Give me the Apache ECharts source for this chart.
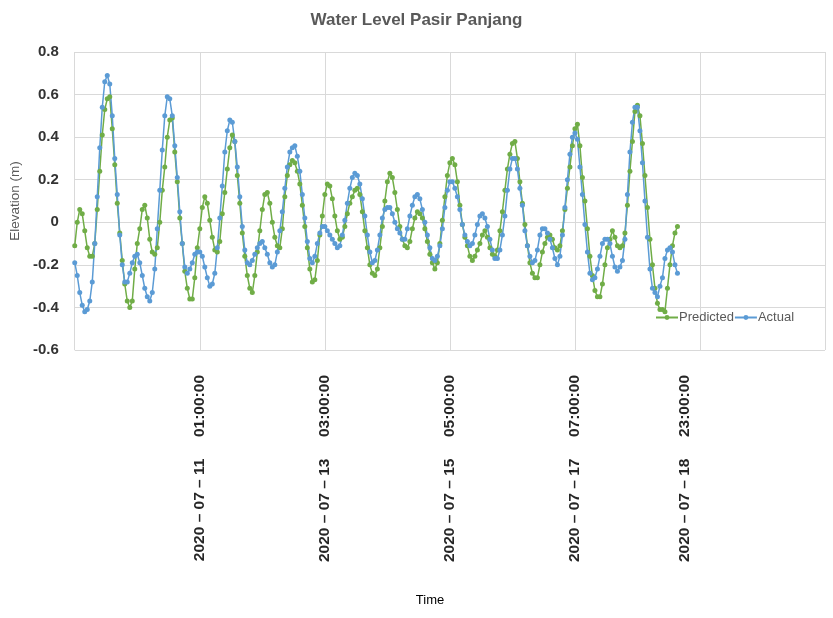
<!DOCTYPE html>
<html>
<head>
<meta charset="utf-8">
<script src="https://cdn.jsdelivr.net/npm/echarts@6/dist/echarts.min.js"></script>
<style>
html,body{margin:0;padding:0;background:#ffffff;}
#chart{width:833px;height:618px;}
</style>
</head>
<body>
<div id="chart"></div>
<script>
// ---- data (hours since 2020-07-08 23:00, one value per hour) ----
const chartTitle = 'Water Level Pasir Panjang';
const yAxisTitle = 'Elevation (m)';
const xAxisTitle = 'Time';
const seriesNames = ['Predicted', 'Actual'];

const tickHours = [50, 100, 150, 200, 244];
const tickLabels = [
  '2020 – 07 – 11     01:00:00',
  '2020 – 07 – 13     03:00:00',
  '2020 – 07 – 15     05:00:00',
  '2020 – 07 – 17     07:00:00',
  '2020 – 07 – 18     23:00:00'
];

const predicted = [
  -0.11, 0.00, 0.06, 0.04, -0.04, -0.12, -0.16, -0.16, -0.10, 0.06,
  0.24, 0.41, 0.53, 0.58, 0.59, 0.44, 0.27, 0.09, -0.05, -0.18,
  -0.29, -0.37, -0.40, -0.37, -0.22, -0.10, -0.03, 0.06, 0.08, 0.02,
  -0.08, -0.14, -0.15, -0.12, 0.00, 0.15, 0.26, 0.40, 0.48, 0.49,
  0.33, 0.19, 0.02, -0.10, -0.23, -0.31, -0.36, -0.36, -0.26, -0.12,
  -0.03, 0.07, 0.12, 0.09, 0.01, -0.07, -0.13, -0.14, -0.09, 0.04,
  0.14, 0.25, 0.35, 0.41, 0.38, 0.22, 0.09, -0.05, -0.16, -0.25,
  -0.31, -0.33, -0.25, -0.14, -0.04, 0.06, 0.13, 0.14, 0.09, 0.00,
  -0.07, -0.11, -0.12, -0.03, 0.12, 0.22, 0.27, 0.29, 0.28, 0.24,
  0.18, 0.08, -0.02, -0.12, -0.22, -0.28, -0.27, -0.18, -0.06, 0.03,
  0.13, 0.18, 0.17, 0.11, 0.03, -0.04, -0.08, -0.07, -0.02, 0.04,
  0.09, 0.12, 0.15, 0.16, 0.13, 0.05, -0.04, -0.12, -0.20, -0.24,
  -0.25, -0.22, -0.12, -0.02, 0.10, 0.19, 0.23, 0.21, 0.14, 0.06,
  -0.02, -0.08, -0.11, -0.12, -0.09, -0.03, 0.02, 0.05, 0.04, 0.02,
  -0.03, -0.09, -0.15, -0.19, -0.22, -0.19, -0.10, 0.01, 0.12, 0.22,
  0.28, 0.30, 0.27, 0.19, 0.08, -0.01, -0.07, -0.11, -0.16, -0.18,
  -0.16, -0.13, -0.10, -0.06, -0.04, -0.07, -0.12, -0.15, -0.16, -0.13,
  -0.04, 0.05, 0.15, 0.25, 0.32, 0.37, 0.38, 0.30, 0.19, 0.09,
  -0.01, -0.11, -0.19, -0.24, -0.26, -0.26, -0.20, -0.14, -0.10, -0.07,
  -0.06, -0.08, -0.12, -0.13, -0.11, -0.04, 0.06, 0.16, 0.26, 0.36,
  0.44, 0.46, 0.36, 0.21, 0.10, -0.03, -0.16, -0.25, -0.32, -0.35,
  -0.35, -0.29, -0.20, -0.12, -0.08, -0.04, -0.07, -0.11, -0.12, -0.11,
  -0.05, 0.08, 0.24, 0.38, 0.52, 0.55, 0.50, 0.37, 0.22, 0.07,
  -0.08, -0.20, -0.31, -0.38, -0.41, -0.41, -0.42, -0.31, -0.20, -0.11,
  -0.05, -0.02
];

const actual = [
  -0.19, -0.25, -0.33, -0.39, -0.42, -0.41, -0.37, -0.28, -0.10, 0.12,
  0.35, 0.54, 0.66, 0.69, 0.65, 0.50, 0.30, 0.13, -0.06, -0.20,
  -0.28, -0.28, -0.24, -0.19, -0.16, -0.15, -0.19, -0.25, -0.31, -0.35,
  -0.37, -0.33, -0.22, -0.03, 0.15, 0.34, 0.50, 0.59, 0.58, 0.50,
  0.36, 0.21, 0.05, -0.10, -0.21, -0.24, -0.22, -0.19, -0.15, -0.14,
  -0.14, -0.16, -0.21, -0.26, -0.30, -0.29, -0.24, -0.12, 0.02, 0.17,
  0.33, 0.43, 0.48, 0.47, 0.38, 0.26, 0.12, -0.02, -0.13, -0.19,
  -0.20, -0.18, -0.15, -0.12, -0.10, -0.09, -0.12, -0.15, -0.19, -0.21,
  -0.20, -0.14, -0.04, 0.05, 0.16, 0.26, 0.33, 0.35, 0.36, 0.31,
  0.24, 0.13, 0.02, -0.09, -0.17, -0.19, -0.16, -0.10, -0.05, -0.02,
  -0.02, -0.04, -0.06, -0.08, -0.10, -0.12, -0.11, -0.06, 0.01, 0.09,
  0.16, 0.21, 0.23, 0.22, 0.18, 0.11, 0.03, -0.06, -0.14, -0.19,
  -0.18, -0.13, -0.06, 0.02, 0.06, 0.07, 0.07, 0.04, 0.00, -0.03,
  -0.05, -0.08, -0.08, -0.03, 0.03, 0.08, 0.12, 0.13, 0.11, 0.06,
  0.00, -0.06, -0.12, -0.17, -0.18, -0.16, -0.11, -0.03, 0.07, 0.15,
  0.19, 0.19, 0.16, 0.12, 0.06, -0.01, -0.06, -0.09, -0.11, -0.10,
  -0.06, -0.01, 0.03, 0.04, 0.02, -0.02, -0.08, -0.13, -0.17, -0.17,
  -0.13, -0.06, 0.03, 0.15, 0.25, 0.30, 0.30, 0.25, 0.16, 0.08,
  -0.04, -0.11, -0.16, -0.19, -0.18, -0.13, -0.06, -0.03, -0.03, -0.05,
  -0.08, -0.12, -0.17, -0.20, -0.16, -0.06, 0.07, 0.20, 0.32, 0.40,
  0.42, 0.39, 0.26, 0.13, -0.01, -0.14, -0.24, -0.27, -0.26, -0.22,
  -0.16, -0.10, -0.08, -0.08, -0.10, -0.16, -0.21, -0.23, -0.21, -0.18,
  -0.08, 0.13, 0.33, 0.47, 0.54, 0.54, 0.43, 0.28, 0.10, -0.07,
  -0.22, -0.31, -0.33, -0.35, -0.30, -0.26, -0.17, -0.13, -0.12, -0.14,
  -0.20, -0.24
];

// ---- chart ----
const FONT = '"Liberation Sans", Arial, sans-serif';
const GREEN = '#70AD47';
const BLUE = '#5B9BD5';

function toPairs(arr) { return arr.map(function (v, i) { return [i, v]; }); }
function xLabel(v) {
  const k = tickHours.indexOf(v);
  return k >= 0 ? tickLabels[k] : '';
}
function yLabel(v) {
  if (Math.abs(v) < 1e-9) return '0';
  return (Math.round(v * 10) / 10).toFixed(1);
}

const chart = echarts.init(document.getElementById('chart'), null, { renderer: 'canvas' });
chart.setOption({
  animation: false,
  backgroundColor: '#ffffff',
  title: {
    text: chartTitle,
    left: 'center',
    top: 7,
    textStyle: { fontFamily: FONT, fontSize: 17, fontWeight: 'bold', color: '#595959' }
  },
  legend: {
    data: seriesNames,
    left: 650,
    top: 306,
    itemWidth: 22,
    itemHeight: 6,
    itemGap: 0,
    textStyle: { fontFamily: FONT, fontSize: 13, color: '#595959', padding: [0, 0, 0, -4] }
  },
  grid: { left: 72, right: 8, top: 52, bottom: 268 },
  xAxis: {
    type: 'value',
    min: 0,
    max: 300,
    interval: 50,
    axisLine: { show: false },
    axisTick: { show: false },
    splitLine: { show: true, lineStyle: { color: '#d9d9d9', width: 1 } },
    axisLabel: {
      customValues: tickHours,
      rotate: 90,
      margin: 25,
      formatter: xLabel,
      fontFamily: FONT,
      fontSize: 15.5,
      fontWeight: 'bold',
      color: '#262626'
    }
  },
  yAxis: {
    type: 'value',
    min: -0.6,
    max: 0.8,
    interval: 0.2,
    name: yAxisTitle,
    nameLocation: 'middle',
    nameGap: 52,
    nameTextStyle: { fontFamily: FONT, fontSize: 13.5, color: '#595959' },
    axisLine: { show: false },
    axisTick: { show: false },
    splitLine: { show: true, lineStyle: { color: '#d9d9d9', width: 1 } },
    axisLabel: {
      formatter: yLabel,
      margin: 16,
      fontFamily: FONT,
      fontSize: 15,
      fontWeight: 'bold',
      color: '#333333'
    }
  },
  graphic: [{
    type: 'text',
    x: 430,
    y: 600,
    style: {
      text: xAxisTitle,
      font: '13px "Liberation Sans", Arial, sans-serif',
      fill: '#000000',
      align: 'center',
      verticalAlign: 'middle',
      textAlign: 'center',
      textVerticalAlign: 'middle'
    }
  }],
  series: [
    {
      name: seriesNames[0],
      type: 'line',
      data: toPairs(predicted),
      symbol: 'circle',
      symbolSize: 5,
      showAllSymbol: true,
      lineStyle: { color: GREEN, width: 1.5 },
      itemStyle: { color: GREEN }
    },
    {
      name: seriesNames[1],
      type: 'line',
      data: toPairs(actual),
      symbol: 'circle',
      symbolSize: 5,
      showAllSymbol: true,
      lineStyle: { color: BLUE, width: 1.5 },
      itemStyle: { color: BLUE }
    }
  ]
});
</script>
</body>
</html>
